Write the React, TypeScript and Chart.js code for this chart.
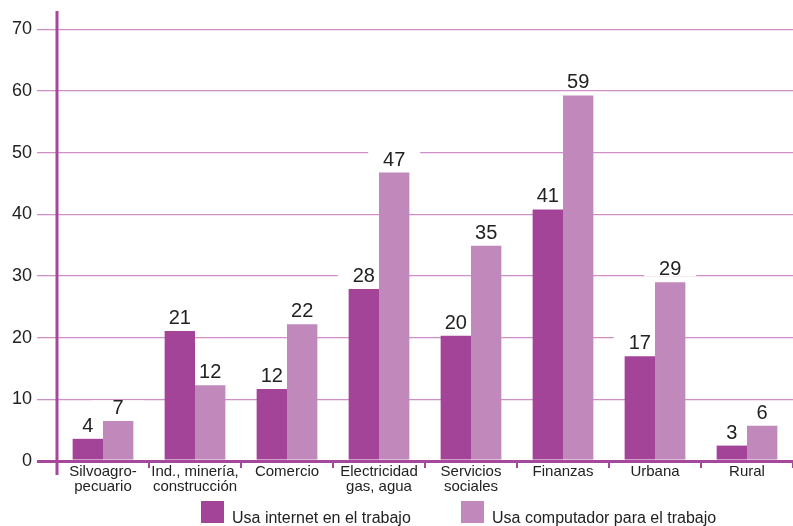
import React, { useEffect, useRef } from "react";
import { Chart, registerables } from "chart.js";

Chart.register(...registerables);

const categories: string[][] = [
  ["Silvoagro-", "pecuario"],
  ["Ind., minería,", "construcción"],
  ["Comercio"],
  ["Electricidad", "gas, agua"],
  ["Servicios", "sociales"],
  ["Finanzas"],
  ["Urbana"],
  ["Rural"],
];

const internetValues = [3.6, 21.1, 11.7, 27.9, 20.3, 40.8, 17.0, 2.5];
const computerValues = [6.5, 12.3, 22.2, 46.8, 34.9, 59.3, 29.0, 5.7];
const internetLabels = ["4", "21", "12", "28", "20", "41", "17", "3"];
const computerLabels = ["7", "12", "22", "47", "35", "59", "29", "6"];

const seriesNames = ["Usa internet en el trabajo", "Usa computador para el trabajo"];
const yTicks = [0, 10, 20, 30, 40, 50, 60, 70];

const FONT = '"Liberation Sans", Arial, Helvetica, sans-serif';
const C_INTERNET = "#a44498";
const C_COMPUTER = "#c088bb";
const C_AXIS = "#a6479c";
const C_GRID = "#cf8fc8";
const C_TEXT = "#222222";

const labelSets = [internetLabels, computerLabels];

const valueLabelPlugin = {
  id: "valueLabels",
  beforeDatasetsDraw(chart: any) {
    const ctx = chart.ctx;
    ctx.save();
    ctx.fillStyle = "#ffffff";
    chart.data.datasets.forEach((_ds: any, di: number) => {
      const meta = chart.getDatasetMeta(di);
      meta.data.forEach((bar: any) => {
        const bottom = bar.y - 7;
        ctx.fillRect(bar.x - 26, bottom - 13.5, 52, 14.5);
      });
    });
    ctx.restore();
  },
  afterDatasetsDraw(chart: any) {
    const ctx = chart.ctx;
    ctx.save();
    ctx.font = `20px ${FONT}`;
    ctx.textAlign = "center";
    ctx.textBaseline = "alphabetic";
    ctx.fillStyle = C_TEXT;
    chart.data.datasets.forEach((_ds: any, di: number) => {
      const meta = chart.getDatasetMeta(di);
      meta.data.forEach((bar: any, i: number) => {
        ctx.fillText(labelSets[di][i], bar.x, bar.y - 7);
      });
    });
    ctx.restore();
  },
};

const axisPlugin = {
  id: "axisExtras",
  afterDraw(chart: any) {
    const ctx = chart.ctx;
    const area = chart.chartArea;
    ctx.save();
    ctx.strokeStyle = C_AXIS;
    ctx.lineWidth = 3;
    ctx.beginPath();
    ctx.moveTo(area.left, area.top);
    ctx.lineTo(area.left, area.bottom + 14);
    ctx.stroke();
    const colors = [C_INTERNET, C_COMPUTER];
    const starts = [area.left + 144, area.left + 404];
    ctx.font = `16px ${FONT}`;
    ctx.textAlign = "left";
    ctx.textBaseline = "alphabetic";
    seriesNames.forEach((name, i) => {
      ctx.fillStyle = colors[i];
      ctx.fillRect(starts[i], area.bottom + 40, 23, 22);
      ctx.fillStyle = C_TEXT;
      ctx.fillText(name, starts[i] + 31, area.bottom + 62);
    });
    ctx.restore();
  },
};

export default function App() {
  const ref = useRef<HTMLCanvasElement | null>(null);

  useEffect(() => {
    if (!ref.current) return;
    const chart = new Chart(ref.current, {
      type: "bar",
      data: {
        labels: categories as any,
        datasets: [
          {
            label: seriesNames[0],
            data: internetValues,
            backgroundColor: C_INTERNET,
            borderWidth: 0,
          },
          {
            label: seriesNames[1],
            data: computerValues,
            backgroundColor: C_COMPUTER,
            borderWidth: 0,
          },
        ],
      },
      options: {
        responsive: false,
        animation: false,
        devicePixelRatio: 1,
        layout: { padding: { top: 11, left: 0, right: 0, bottom: 0 } },
        datasets: {
          bar: { categoryPercentage: 0.66, barPercentage: 1.0 },
        },
        plugins: {
          legend: { display: false },
          tooltip: { enabled: false },
        },
        scales: {
          x: {
            offset: true,
            grid: {
              offset: true,
              drawOnChartArea: false,
              drawTicks: true,
              tickLength: 7,
              color: C_AXIS,
              lineWidth: 2,
            },
            border: { display: false },
            ticks: {
              color: C_TEXT,
              padding: -3,
              font: { family: FONT, size: 15, lineHeight: 0.95 },
              maxRotation: 0,
              autoSkip: false,
            },
            afterFit(scale: any) {
              scale.height = 65;
              scale.paddingLeft = 0;
              scale.paddingRight = 0;
            },
          },
          y: {
            min: 0,
            max: 73,
            afterBuildTicks(scale: any) {
              scale.ticks = yTicks.map((v) => ({ value: v }));
            },
            grid: {
              tickLength: 20,
              color: (c: any) => (c.tick && c.tick.value === 0 ? C_AXIS : C_GRID),
              lineWidth: (c: any) => (c.tick && c.tick.value === 0 ? 3 : 1.3),
            },
            border: { display: false },
            ticks: {
              color: C_TEXT,
              padding: 5,
              font: { family: FONT, size: 18 },
            },
            afterFit(scale: any) {
              scale.width = 57;
              scale.paddingTop = 0;
              scale.paddingBottom = 0;
            },
          },
        },
      },
      plugins: [valueLabelPlugin, axisPlugin],
    } as any);
    return () => chart.destroy();
  }, []);

  return (
    <div style={{ position: "absolute", left: 0, top: 0, width: 793, height: 526, background: "#fff" }}>
      <canvas ref={ref} width={793} height={526} />
    </div>
  );
}
